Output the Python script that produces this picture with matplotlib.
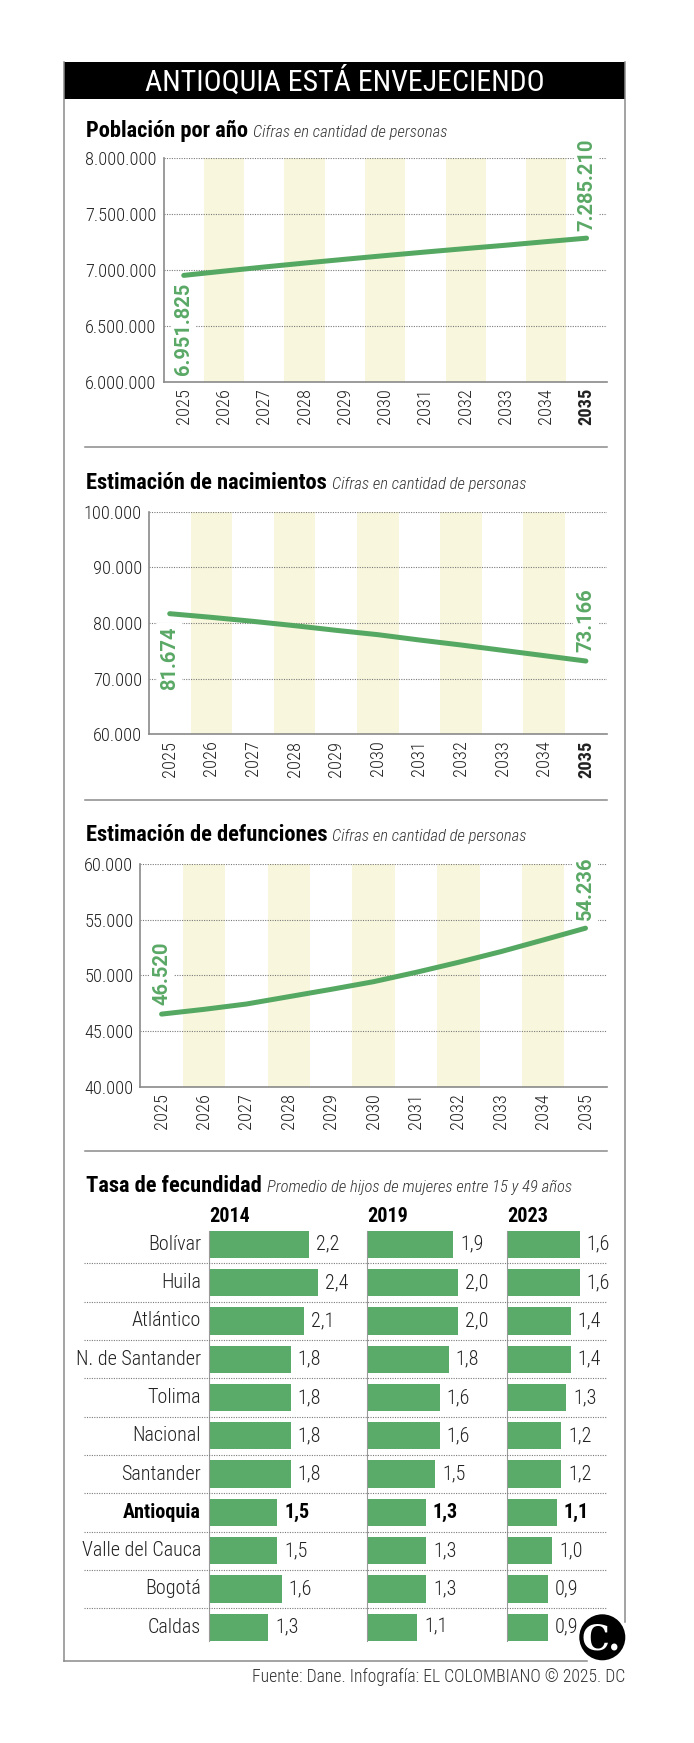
import matplotlib
matplotlib.use('Agg')
import matplotlib.pyplot as plt
import matplotlib.font_manager as fm
from matplotlib.patches import Rectangle, Circle
from matplotlib.lines import Line2D

# ---------------- data ----------------
years = list(range(2025, 2036))
poblacion = [6951825, 6990000, 7027000, 7062000, 7096000, 7129000,
             7161000, 7192000, 7222000, 7254000, 7285210]
nacimientos = [81674, 81018, 80299, 79521, 78683, 77904,
               76946, 76048, 75090, 74132, 73166]
defunciones = [46520, 46946, 47425, 48084, 48743, 49431,
               50269, 51168, 52126, 53174, 54236]

pob_ticks = [6000000, 6500000, 7000000, 7500000, 8000000]
nac_ticks = [60000, 70000, 80000, 90000, 100000]
def_ticks = [40000, 45000, 50000, 55000, 60000]

departamentos = ['Bolívar', 'Huila', 'Atlántico', 'N. de Santander', 'Tolima',
                 'Nacional', 'Santander', 'Antioquia', 'Valle del Cauca',
                 'Bogotá', 'Caldas']
tasa_2014 = [2.2, 2.4, 2.1, 1.8, 1.8, 1.8, 1.8, 1.5, 1.5, 1.6, 1.3]
tasa_2019 = [1.9, 2.0, 2.0, 1.8, 1.6, 1.6, 1.5, 1.3, 1.3, 1.3, 1.1]
tasa_2023 = [1.6, 1.6, 1.4, 1.4, 1.3, 1.2, 1.2, 1.1, 1.0, 0.9, 0.9]
columnas = ['2014', '2019', '2023']
destacado = 'Antioquia'

titulo = 'ANTIOQUIA ESTÁ ENVEJECIENDO'
secciones = ['Población por año', 'Estimación de nacimientos',
             'Estimación de defunciones', 'Tasa de fecundidad']
subtitulos = ['Cifras en cantidad de personas', 'Cifras en cantidad de personas',
              'Cifras en cantidad de personas',
              'Promedio de hijos de mujeres entre 15 y 49 años']
fuente = 'Fuente: Dane. Infografía: EL COLOMBIANO © 2025. DC'

# ---------------- styles ----------------
names = {f.name for f in fm.fontManager.ttflist}
def pick(cands, default='DejaVu Sans'):
    for c in cands:
        if c in names:
            return c
    return default

COND = pick(['Roboto Condensed', 'Liberation Sans Narrow', 'DejaVu Sans Condensed', 'Roboto'])
ROBOTO = pick(['Roboto', 'Liberation Sans'])
SERIF = pick(['DejaVu Serif', 'Liberation Serif'])
NARROW = COND != 'Roboto'
K = 1.0 if NARROW else 0.85   # shrink if no condensed family

LINE = '#55a862'
BAND = '#f8f6dc'
BAR = '#5aaa69'
GREEN_TXT = '#5aa866'
GRID = '#7a7a7a'
FRAME = '#8a8a8a'
TXT = '#222222'

W, H = 694, 1743
fig = plt.figure(figsize=(W / 100, H / 100), dpi=100)
fig.patch.set_facecolor('white')


def ax_px(l, t, r, b):
    return fig.add_axes([l / W, 1 - b / H, (r - l) / W, (b - t) / H])


def miles(v):
    return f'{int(v):,}'.replace(',', '.')


def dec(v):
    return f'{v:.1f}'.replace('.', ',')


def line_chart(box, values, ticks, offs, pos, bold_last):
    ax = ax_px(*box)
    ax.set_xlim(2024.5, 2035.5)
    ax.set_ylim(ticks[0], ticks[-1])
    for y in years:
        if (y - 2025) % 2 == 1:
            ax.axvspan(y - 0.5, y + 0.5, color=BAND, lw=0, zorder=0)
    for t in ticks[1:]:
        ax.axhline(t, color=GRID, lw=0.8, ls=(0, (1, 1.2)), zorder=1)
    ax.plot(years, values, color=LINE, lw=3.6, solid_capstyle='round', zorder=3)
    for s in ['top', 'right']:
        ax.spines[s].set_visible(False)
    for s in ['left', 'bottom']:
        ax.spines[s].set_color(FRAME)
        ax.spines[s].set_linewidth(1.2)
    ax.set_yticks(ticks)
    ax.set_yticklabels([miles(t) for t in ticks], family=COND, fontweight='light',
                       fontsize=13.2 * K, color=TXT)
    ax.set_xticks(years)
    ax.set_xticklabels([str(y) for y in years], rotation=90, family=COND,
                       fontweight='light', fontsize=13.2 * K, color=TXT)
    if bold_last:
        ax.get_xticklabels()[-1].set_fontweight('bold')
    ax.tick_params(axis='y', length=0, pad=5)
    ax.tick_params(axis='x', length=0, pad=4.5)
    for idx, off, p in zip([0, -1], offs, pos):
        va = 'top' if p == 'below' else 'bottom'
        dy = -off if p == 'below' else off
        ax.annotate(miles(values[idx]), (years[idx], values[idx]),
                    xytext=(0, dy), textcoords='offset points', rotation=90,
                    ha='center', va=va, color=GREEN_TXT, fontweight='bold',
                    family=ROBOTO, fontsize=14.5,
                    bbox=dict(boxstyle='square,pad=0.15', fc='white', ec='none'),
                    zorder=5, annotation_clip=False)
    return ax


line_chart((163.6, 158.3, 606.7, 381.7), poblacion, pob_ticks, (5.5, 5.5), ('below', 'above'), True)
line_chart((148.9, 511.7, 606.7, 734.3), nacimientos, nac_ticks, (9, 6.5), ('below', 'above'), True)
line_chart((140.4, 864.0, 606.7, 1086.7), defunciones, def_ticks, (6.5, 6), ('above', 'above'), False)

# ---------------- bar chart ----------------
row0, pitch = 1244.3, 38.3
btop = row0 - 0.5 * pitch
bbot = row0 + (len(departamentos) - 0.5) * pitch
ppu = 45.4
cols_px = [(209, 367), (367, 507), (507, 607)]
series = [tasa_2014, tasa_2019, tasa_2023]
for (l, r), vals in zip(cols_px, series):
    ax = ax_px(l, btop, r, bbot)
    ax.set_xlim(0, (r - l) / ppu)
    ax.set_ylim(len(departamentos) - 0.5, -0.5)
    ax.barh(range(len(vals)), vals, height=27.3 / pitch, color=BAR, zorder=2)
    ax.axis('off')
    for i, v in enumerate(vals):
        ax.annotate(dec(v), (v, i), xytext=(5, 0), textcoords='offset points',
                    ha='left', va='center', family=COND,
                    fontweight='bold' if departamentos[i] == destacado else 'light',
                    fontsize=14.5 * K, color='black' if departamentos[i] == destacado else TXT)

# ---------------- overlay ----------------
ov = fig.add_axes([0, 0, 1, 1], zorder=10)
ov.set_xlim(0, W)
ov.set_ylim(H, 0)
ov.axis('off')

# frame
ov.add_line(Line2D([64.5, 64.5], [62, 1661], color=FRAME, lw=1.1))
ov.add_line(Line2D([625, 625], [62, 1622], color=FRAME, lw=1.1))
ov.add_line(Line2D([64.5, 587], [1661, 1661], color=FRAME, lw=1.1))
ov.add_patch(Rectangle((64, 62), 561.5, 37, color='black', lw=0))
ov.text(344.5, 90.3, titulo, color='white', ha='center', va='baseline',
        family=COND, fontsize=21.5 * K)

# dividers
for yd in [446.7, 800.0, 1150.7]:
    ov.add_line(Line2D([85, 607], [yd, yd], color='#8a8a8a', lw=1.1))

# section titles
fig.canvas.draw()
rend = fig.canvas.get_renderer()
for tit, sub, yb in zip(secciones, subtitulos, [136.7, 489.3, 841.0, 1191.7]):
    t = ov.text(86, yb, tit, ha='left', va='baseline', family=COND,
                fontweight='bold', fontsize=16.2 * K, color='black')
    bb = t.get_window_extent(renderer=rend)
    ov.text(86 + bb.width + 5, yb, sub, ha='left', va='baseline', family=COND,
            fontstyle='italic', fontweight='light', fontsize=12 * K, color='#333333')

# bar chart headers, labels, separators, baselines
for (l, r), c in zip(cols_px, columnas):
    ov.text(l, 1222, c, ha='left', va='baseline', family=COND, fontweight='bold',
            fontsize=14.5 * K, color='black')
    ov.add_line(Line2D([l, l], [row0 - 27.3 / 2, row0 + 10 * pitch + 27.3 / 2],
                       color='#9a9a9a', lw=0.8))
for i, d in enumerate(departamentos):
    yc = row0 + i * pitch
    ov.text(200.9, yc, d, ha='right', va='center', family=COND,
            fontweight='bold' if d == destacado else 'light',
            fontsize=14.5 * K, color='black' if d == destacado else TXT)
    if i < len(departamentos) - 1:
        ov.add_line(Line2D([84, 607], [yc + pitch / 2, yc + pitch / 2],
                           color=GRID, lw=0.8, ls=(0, (1, 1.2))))

# footer
ov.text(625, 1681.7, fuente, ha='right', va='baseline', family=COND,
        fontweight='light', fontsize=12.7 * K, color='#333333')

# logo
ov.add_patch(Circle((602.3, 1637.3), 23, color='black', lw=0))
ov.text(601, 1639, 'C.', color='white', ha='center', va='center', family=SERIF,
        fontweight='bold', fontsize=25)

fig.savefig('out.png', dpi=100, facecolor='white')
